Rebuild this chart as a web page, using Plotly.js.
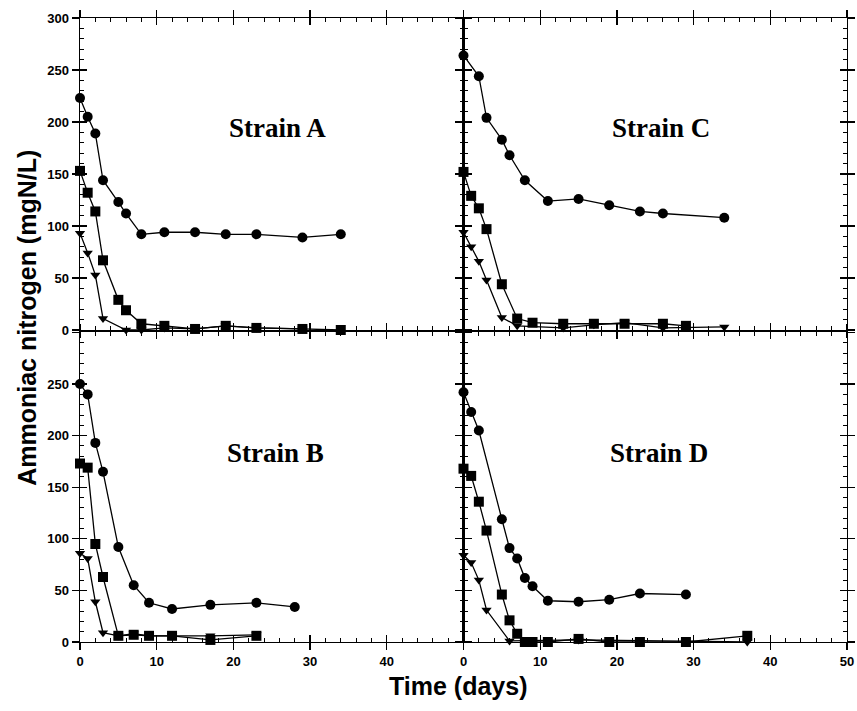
<!DOCTYPE html>
<html>
<head>
<meta charset="utf-8">
<script src="https://cdn.plot.ly/plotly-3.0.1.min.js"></script>
<style>html,body{margin:0;padding:0;background:#fff;}#plot{width:857px;height:711px;}</style>
</head>
<body>
<div id="plot"></div>
<script>
// ---------- DATA ----------
const strainNames = ['Strain A', 'Strain B', 'Strain C', 'Strain D'];
const xTickVals = [0, 10, 20, 30, 40, 50];
const xTickTextLeft = ['0', '10', '20', '30', '40', ''];
const xTickTextRight = ['0', '10', '20', '30', '40', '50'];
const yTickVals = [0, 50, 100, 150, 200, 250, 300];
const yTickTextTop = ['0', '50', '100', '150', '200', '250', '300'];
const yTickTextBottom = ['0', '50', '100', '150', '200', '250', ''];
const xTitle = 'Time (days)';
const yTitle = 'Ammoniac nitrogen (mgN/L)';

// Strain A (top-left)
const aCircX = [0, 1, 2, 3, 5, 6, 8, 11, 15, 19, 23, 29, 34];
const aCircY = [223, 205, 189, 144, 123, 112, 92, 94, 94, 92, 92, 89, 92];
const aSqX = [0, 1, 2, 3, 5, 6, 8, 11, 15, 19, 23, 29, 34];
const aSqY = [153, 132, 114, 67, 29, 19, 6, 4, 1, 4, 2, 1, 0];
const aTriX = [0, 1, 2, 3, 6, 8, 11, 15, 19, 23, 29];
const aTriY = [93, 74, 53, 11, 0, 0, 2, 1, 4, 2, 1];

// Strain B (bottom-left)
const bCircX = [0, 1, 2, 3, 5, 7, 9, 12, 17, 23, 28];
const bCircY = [250, 240, 193, 165, 92, 55, 38, 32, 36, 38, 34];
const bSqX = [0, 1, 2, 3, 5, 7, 9, 12, 17, 23];
const bSqY = [173, 169, 95, 63, 6, 7, 6, 6, 2, 6];
const bTriX = [0, 1, 2, 3, 5, 7, 9, 12, 17, 23];
const bTriY = [86, 81, 39, 9, 6, 8, 6, 6, 6, 7];

// Strain C (top-right)
const cCircX = [0, 2, 3, 5, 6, 8, 11, 15, 19, 23, 26, 34];
const cCircY = [264, 244, 204, 183, 168, 144, 124, 126, 120, 114, 112, 108];
const cSqX = [0, 1, 2, 3, 5, 7, 9, 13, 17, 21, 26, 29];
const cSqY = [152, 129, 117, 97, 44, 11, 7, 6, 6, 6, 6, 4];
const cTriX = [0, 1, 2, 3, 5, 7, 13, 17, 21, 26, 34];
const cTriY = [94, 80, 66, 48, 12, 4, 2, 5, 7, 2, 3];

// Strain D (bottom-right)
const dCircX = [0, 1, 2, 5, 6, 7, 8, 9, 11, 15, 19, 23, 29];
const dCircY = [242, 223, 205, 119, 91, 81, 62, 54, 40, 39, 41, 47, 46];
const dSqX = [0, 1, 2, 3, 5, 6, 7, 8, 9, 11, 15, 19, 23, 29, 37];
const dSqY = [168, 161, 136, 108, 46, 21, 8, 0, 0, 0, 3, 0, 0, 0, 6];
const dTriX = [0, 1, 2, 3, 6, 15, 37];
const dTriY = [84, 77, 60, 31, 1, 2, 0];

// ---------- STYLE / LAYOUT ----------
const tickFont = {family: 'Liberation Sans, Arial, sans-serif', size: 13, weight: 'bold', color: '#000'};
const titleFont = {family: 'Liberation Sans, Arial, sans-serif', size: 25, weight: 'bold', color: '#000'};
const strainFont = {family: 'Liberation Serif, Times New Roman, serif', size: 27, weight: 'bold', color: '#000'};

const panels = [
  {m: '3', o: '5', xd: [0, 0.5], yd: [0.5, 1], left: true, bottom: false, name: strainNames[0],
   s: [[aCircX, aCircY], [aSqX, aSqY], [aTriX, aTriY]]},
  {m: '', o: '6', xd: [0, 0.5], yd: [0, 0.496], left: true, bottom: true, name: strainNames[1],
   s: [[bCircX, bCircY], [bSqX, bSqY], [bTriX, bTriY]]},
  {m: '4', o: '7', xd: [0.5, 1], yd: [0.5, 1], left: false, bottom: false, name: strainNames[2],
   s: [[cCircX, cCircY], [cSqX, cSqY], [cTriX, cTriY]]},
  {m: '2', o: '8', xd: [0.5, 1], yd: [0, 0.496], left: false, bottom: true, name: strainNames[3],
   s: [[dCircX, dCircY], [dSqX, dSqY], [dTriX, dTriY]]}
];

const symbols = ['circle', 'square', 'triangle-down'];
const sizes = [10, 10, 9];

const traces = [];
const layout = {
  width: 857, height: 711,
  margin: {l: 80, r: 10, t: 18, b: 69},
  paper_bgcolor: '#fff', plot_bgcolor: 'rgba(0,0,0,0)',
  showlegend: false,
  annotations: []
};

panels.forEach(p => {
  const xm = 'x' + p.m, ym = 'y' + p.m, xo = 'x' + p.o, yo = 'y' + p.o;
  const xmKey = 'xaxis' + p.m, ymKey = 'yaxis' + p.m;
  const xoKey = 'xaxis' + p.o, yoKey = 'yaxis' + p.o;

  layout[xmKey] = {
    domain: p.xd, range: [0, 50], anchor: ym,
    tickmode: 'array', tickvals: xTickVals,
    ticktext: p.left ? xTickTextLeft : xTickTextRight,
    showticklabels: p.bottom, tickfont: tickFont,
    ticks: 'outside', ticklen: 7, tickwidth: 1.3, tickcolor: '#000',
    showline: true, linecolor: '#000', linewidth: 1.4, mirror: 'ticks',
    showgrid: false, zeroline: false, fixedrange: true
  };
  layout[ymKey] = {
    domain: p.yd, range: [0, 300], anchor: xm,
    tickmode: 'array', tickvals: yTickVals,
    ticktext: p.bottom ? yTickTextBottom : yTickTextTop,
    showticklabels: p.left, tickfont: tickFont,
    ticks: 'outside', ticklen: 7, tickwidth: 1.3, tickcolor: '#000',
    showline: true, linecolor: '#000', linewidth: 1.4, mirror: 'ticks',
    showgrid: false, zeroline: false, fixedrange: true
  };
  layout[xoKey] = {
    domain: p.xd, range: [0, 50], overlaying: xm, anchor: yo,
    tickmode: 'linear', tick0: 0, dtick: 10,
    ticks: 'inside', ticklen: 7, tickwidth: 1.3, tickcolor: '#000',
    minor: {ticks: 'inside', ticklen: 4, tickwidth: 1, tickcolor: '#000', tickmode: 'linear', tick0: 0, dtick: 2, showgrid: false},
    showticklabels: false, showline: false, mirror: 'ticks',
    showgrid: false, zeroline: false, fixedrange: true
  };
  layout[yoKey] = {
    domain: p.yd, range: [0, 300], overlaying: ym, anchor: xo,
    tickmode: 'linear', tick0: 0, dtick: 50,
    ticks: 'inside', ticklen: 7, tickwidth: 1.3, tickcolor: '#000',
    minor: {ticks: 'inside', ticklen: 4, tickwidth: 1, tickcolor: '#000', tickmode: 'linear', tick0: 0, dtick: 10, showgrid: false},
    showticklabels: false, showline: false, mirror: 'ticks',
    showgrid: false, zeroline: false, fixedrange: true
  };
  traces.push({x: [], y: [], xaxis: xo, yaxis: yo, type: 'scatter', mode: 'markers', hoverinfo: 'skip', showlegend: false});

  p.s.forEach((ser, i) => {
    traces.push({
      x: ser[0], y: ser[1], xaxis: xm, yaxis: ym,
      type: 'scatter', mode: 'lines+markers',
      line: {color: '#000', width: 1.3},
      marker: {symbol: symbols[i], size: sizes[i], color: '#000'},
      cliponaxis: false, hoverinfo: 'x+y', showlegend: false
    });
  });

  layout.annotations.push({
    xref: xm, yref: ym, x: p.bottom ? 25.5 : 25.8, y: p.bottom ? 183 : 194,
    text: p.name, showarrow: false, font: strainFont,
    xanchor: 'center', yanchor: 'middle'
  });
});

layout.annotations.push({
  xref: 'paper', yref: 'paper', x: 0.493, y: -0.07, text: xTitle,
  showarrow: false, font: titleFont, xanchor: 'center', yanchor: 'middle'
});
layout.annotations.push({
  xref: 'paper', yref: 'paper', x: -0.07, y: 0.52, text: yTitle, textangle: -90,
  showarrow: false, font: titleFont, xanchor: 'center', yanchor: 'middle'
});

Plotly.newPlot('plot', traces, layout, {displayModeBar: false, staticPlot: true});
</script>
</body>
</html>
